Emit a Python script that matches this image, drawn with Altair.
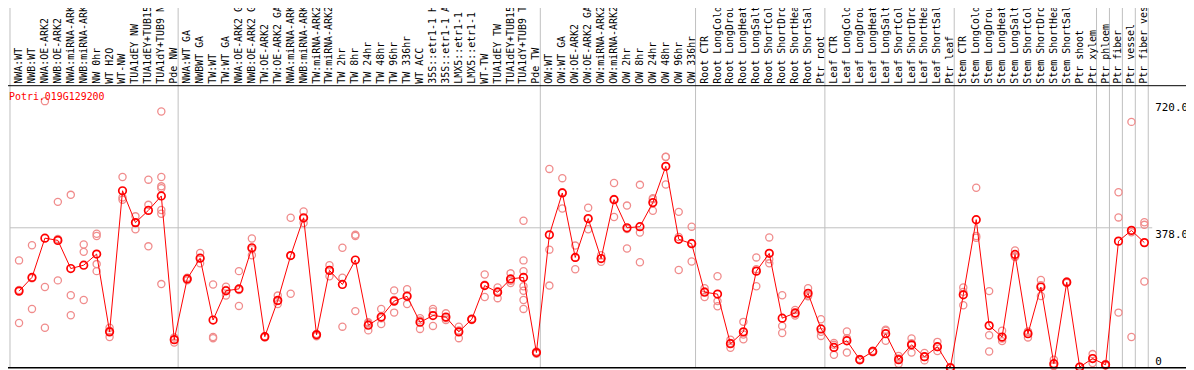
import altair as alt
import pandas as pd

# ---------------- data ----------------
gene_id = "Potri.019G129200"

categories = [
    "NWA:WT", "NWB:WT", "NWA:OE-ARK2", "NWB:OE-ARK2", "NWA:miRNA-ARK2", "NWB:miRNA-ARK2",
    "NW 0hr", "WT H2O", "WT-NW", "TUA1dEY NW", "TUA1dEY+TUB15", "TUA1dY+TUB9 NW", "Pde NW",
    "NWA:WT GA", "NWBWT GA", "TW:WT", "TW:WT GA", "NWA:OE-ARK2 GA", "NWB:OE-ARK2 GA",
    "TW:OE-ARK2", "TW:OE-ARK2 GA", "NWA:miRNA-ARK2", "NWB:miRNA-ARK2", "TW:miRNA-ARK2",
    "TW:miRNA-ARK2", "TW 2hr", "TW 8hr", "TW 24hr", "TW 48hr", "TW 96hr", "TW 336hr",
    "WT ACC", "35S::etr1-1 H2", "35S::etr1-1 AC", "LMX5::etr1-1 H", "LMX5::etr1-1 A",
    "WT-TW", "TUA1dEY TW", "TUA1dEY+TUB15", "TUA1dY+TUB9 TW", "Pde TW",
    "OW:WT", "OW:WT GA", "OW:OE-ARK2", "OW:OE-ARK2 GA", "OW:miRNA-ARK2", "OW:miRNA-ARK2",
    "OW 2hr", "OW 8hr", "OW 24hr", "OW 48hr", "OW 96hr", "OW 336hr",
    "Root CTR", "Root LongCold", "Root LongDroug", "Root LongHeat", "Root LongSalt",
    "Root ShortCold", "Root ShortDrou", "Root ShortHeat", "Root ShortSalt", "Ptr root",
    "Leaf CTR", "Leaf LongCold", "Leaf LongDroug", "Leaf LongHeat", "Leaf LongSalt",
    "Leaf ShortCold", "Leaf ShortDrou", "Leaf ShortHeat", "Leaf ShortSalt", "Ptr leaf",
    "Stem CTR", "Stem LongCold", "Stem LongDroug", "Stem LongHeat", "Stem LongSalt",
    "Stem ShortCold", "Stem ShortDrou", "Stem ShortHeat", "Stem ShortSalt", "Ptr shoot",
    "Ptr xylem", "Ptr phloem", "Ptr fiber", "Ptr vessel", "Ptr fiber vess",
]

means = [
    207, 244, 350, 344, 268, 277, 307, 97, 478, 392, 425, 464, 76,
    240, 296, 129, 208, 213, 324, 84, 182, 303, 405, 89, 263, 225, 291, 115, 137, 180, 193,
    123, 141, 137, 97, 131, 222, 204, 240, 244, 41,
    359, 472, 298, 403, 295, 454, 378, 381, 446, 544, 347, 335,
    204, 199, 65, 97, 261, 309, 134, 148, 201, 105,
    55, 73, 22, 44, 92, 22, 62, 30, 57, 0,
    197, 400, 114, 83, 306, 92, 218, 11, 231, 2, 25,
    8, 342, 371, 338,
]

replicates = [
    [290, 121, 210], [331, 159, 242], [720, 218, 108], [448, 236, 348], [467, 196, 142],
    [333, 313, 183], [362, 356, 280, 261], [108, 83, 100], [515, 460, 454], [409, 374, 392],
    [508, 440, 328], [692, 515, 490, 485, 426, 416, 226], [82, 68, 76],
    [243, 236, 239], [310, 282, 296], [225, 83, 80], [219, 195, 210], [261, 167, 210],
    [349, 304, 320], [85, 82, 84], [195, 172, 180], [405, 200, 303], [422, 391, 403],
    [91, 85, 91], [277, 247, 264], [324, 243, 111], [359, 356, 153], [120, 101, 123],
    [159, 118, 134], [209, 149, 183], [212, 172, 196],
    [128, 105, 134], [159, 113, 152], [147, 129, 134], [111, 80, 101], [133, 129, 131],
    [252, 191, 224], [217, 188, 207], [255, 229, 235],
    [397, 290, 261, 220, 208, 183, 159], [38, 41, 44],
    [537, 319, 222], [512, 430, 474], [330, 266, 297], [432, 374, 402], [304, 286, 295],
    [499, 407, 456], [438, 322, 375], [494, 365, 285], [458, 424, 455], [569, 495, 570],
    [421, 264, 353], [381, 287, 337],
    [215, 191, 206], [247, 180, 166], [76, 54, 67], [124, 77, 90], [298, 220, 266],
    [352, 282, 293], [196, 113, 94], [156, 141, 146], [215, 195, 193], [131, 86, 97],
    [67, 35, 62], [98, 41, 80], [20, 22, 24], [42, 44, 46], [103, 73, 100],
    [32, 11, 25], [79, 41, 66], [40, 20, 29], [70, 45, 56], [0, 1, 2],
    [217, 169, 205], [486, 356, 351], [207, 88, 44], [100, 72, 79], [317, 299, 301],
    [98, 82, 96], [237, 194, 223], [22, 6, 5], [231, 229, 233], [1, 2, 3], [37, 13, 25],
    [6, 8, 10], [474, 406, 149], [664, 83, 366], [393, 386, 233],
]

# number of categories closing each group (separator after that many columns)
group_bounds = [0, 13, 41, 53, 63, 73, 84, 85, 86, 87, 88]

axis_top_values = [720, 378]
axis_top_labels = ["720.0", "378.0"]
axis_bottom_values = [0]
axis_bottom_labels = ["0"]
grid_values = [378]

# ---------------- tables ----------------
n = len(categories)
df_mean = pd.DataFrame({"idx": list(range(1, n + 1)), "label": categories, "value": means})
rep_idx, rep_val = [], []
for i, reps in enumerate(replicates):
    for v in reps:
        rep_idx.append(i + 1)
        rep_val.append(v)
df_rep = pd.DataFrame({"idx": rep_idx, "value": rep_val})
OFFSET = 0.3
df_sep = pd.DataFrame({"idx": [b + OFFSET for b in group_bounds]})
df_ax_top = pd.DataFrame({"value": axis_top_values, "label": axis_top_labels})
df_ax_bot = pd.DataFrame({"value": axis_bottom_values, "label": axis_bottom_labels})
df_grid = pd.DataFrame({"value": grid_values})

# ---------------- layout ----------------
W, H = 1146, 283
FONT = "DejaVu Sans Mono"
RED = "#ff0000"
PINK = "#f08c8c"
GRID = "#c0c0c0"

xscale = alt.Scale(domain=[OFFSET, n + OFFSET], nice=False, zero=False)
yscale = alt.Scale(domain=[0, 759], nice=False, zero=False)
X = alt.X("idx:Q", scale=xscale, axis=None)
Y = alt.Y("value:Q", scale=yscale, axis=None)

seps = alt.Chart(df_sep).mark_rule(color=GRID, strokeWidth=1).encode(
    x=X, y=alt.value(-90), y2=alt.value(H)
)
grid = alt.Chart(df_grid).mark_rule(color=GRID, strokeWidth=1).encode(
    y=Y, x=alt.value(0), x2=alt.value(W + 4)
)
header_line = alt.Chart(df_grid).mark_rule(color="black", strokeWidth=1).encode(
    y=alt.value(-1), x=alt.value(-4), x2=alt.value(W + 40)
)
bottom_line = alt.Chart(df_grid).mark_rule(color="black", strokeWidth=1.5).encode(
    y=alt.value(H), x=alt.value(-4), x2=alt.value(W + 40)
)
headers = alt.Chart(df_mean).mark_text(
    angle=270, align="left", baseline="middle", font=FONT, fontSize=10, color="black"
).encode(x=X, y=alt.value(-3), text="label:N")

reps = alt.Chart(df_rep).mark_point(
    shape="circle", filled=False, color=PINK, size=52, strokeWidth=1.3, opacity=1
).encode(x=X, y=Y)
line = alt.Chart(df_mean).mark_line(color=RED, strokeWidth=1).encode(x=X, y=Y)
pts = alt.Chart(df_mean).mark_point(
    shape="circle", filled=False, color=RED, size=58, strokeWidth=1.7, opacity=1
).encode(x=X, y=Y)

ax_top = alt.Chart(df_ax_top).mark_text(
    align="left", baseline="top", font=FONT, fontSize=11, color="black", dy=1
).encode(y=Y, x=alt.value(W + 7), text="label:N")
ax_bot = alt.Chart(df_ax_bot).mark_text(
    align="left", baseline="bottom", font=FONT, fontSize=11, color="black", dy=-1
).encode(y=Y, x=alt.value(W + 7), text="label:N")

title = alt.Chart(pd.DataFrame({"label": [gene_id]})).mark_text(
    align="left", baseline="middle", font=FONT, fontSize=10, color=RED
).encode(x=alt.value(-1), y=alt.value(10), text="label:N")

chart = alt.layer(
    seps, grid, header_line, headers, reps, line, pts, bottom_line, ax_top, ax_bot, title
).properties(
    width=W, height=H,
    autosize=alt.AutoSizeParams(type="none"),
    padding={"left": 2, "top": 78, "right": 38, "bottom": 1},
).configure_view(stroke=None)

chart.save("out.html", embed_options={"renderer": "svg", "actions": False})
